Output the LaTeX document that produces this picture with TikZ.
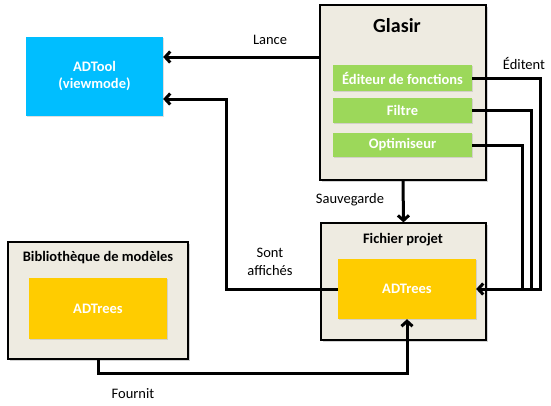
\documentclass[tikz,border=0pt]{standalone}
\usepackage{fontspec}
\setmainfont{Carlito}
\usetikzlibrary{arrows.meta,shadows}
\definecolor{bleu}{HTML}{00BEFF}
\definecolor{vert}{HTML}{9CD85A}
\definecolor{jaune}{HTML}{FFCC00}
\definecolor{fond}{HTML}{EEEBE1}
\begin{document}
\begin{tikzpicture}[x=1pt, y=-1pt, >={Straight Barb[length=5pt,width=11pt]},
  boite/.style={draw, line width=1.2pt, fill=fond, drop shadow={opacity=.35, shadow xshift=1.5pt, shadow yshift=-1.5pt}},
  bloc/.style={fill=#1, text=white, font=\fontsize{14.5}{17}\selectfont\bfseries, align=center, inner sep=0pt,
    drop shadow={opacity=.25, shadow xshift=1pt, shadow yshift=-1pt}},
  titre/.style={font=\fontsize{14.5}{17}\selectfont\bfseries},
  lien/.style={line width=3pt},
  etiq/.style={font=\fontsize{14.5}{18}\selectfont, align=center}]
 \useasboundingbox (0,0) rectangle (551,405);
 % boites
 \node[bloc=bleu, minimum width=137, minimum height=79] (adtool) at (94.5,76.5) {ADTool\\(viewmode)};
 \node[boite, minimum width=166, minimum height=175] (glasir) at (403,92.5) {};
 \node[font=\fontsize{20}{24}\selectfont\bfseries] (tglasir) at (397,26) {Glasir};
 \node[bloc=vert, minimum width=139, minimum height=26] (edit) at (402.5,78) {Éditeur de fonctions};
 \node[bloc=vert, minimum width=139, minimum height=25] (filtre) at (402.5,110.5) {Filtre};
 \node[bloc=vert, minimum width=139, minimum height=24] (optim) at (402.5,145) {Optimiseur};
 \node[boite, minimum width=165, minimum height=117] (fichier) at (403.5,281.5) {};
 \node[titre] (tfichier) at (403,240) {Fichier projet};
 \node[bloc=jaune, minimum width=138, minimum height=60] (adtrP) at (407,289) {ADTrees};
 \node[boite, minimum width=180, minimum height=117] (biblio) at (98,300.5) {};
 \node[titre] (tbiblio) at (98,258) {Bibliothèque de modèles};
 \node[bloc=jaune, minimum width=138, minimum height=61] (adtrB) at (98,308.5) {ADTrees};
 % liens
 \draw[lien,->](glasir.west |- 0,57)--(adtool.east |- 0,57);
 \draw[lien,->](adtrP.west)-|(226,99)--(adtool.east |- 0,99);
 \draw[lien](optim.east)-|([xshift=46]adtrP.east);
 \draw[lien](filtre.east)-|([xshift=55]adtrP.east);
 \draw[lien,->](edit.east)-|([xshift=64]adtrP.east)--(adtrP.east);
 \draw[lien,->](glasir.south)--(fichier.north);
 \draw[lien,->](biblio.south)--++(0,14)-|(adtrP.south);
 % etiquettes
 \node[etiq] (lance) at (270,40) {Lance};
 \node[etiq] (editent) at (524,63) {Éditent};
 \node[etiq] (sauve) at (350,200) {Sauvegarde};
 \node[etiq] (affiche) at (270,262) {Sont\\affichés};
 \node[etiq] (fournit) at (133,394) {Fournit};
\end{tikzpicture}
\end{document}
